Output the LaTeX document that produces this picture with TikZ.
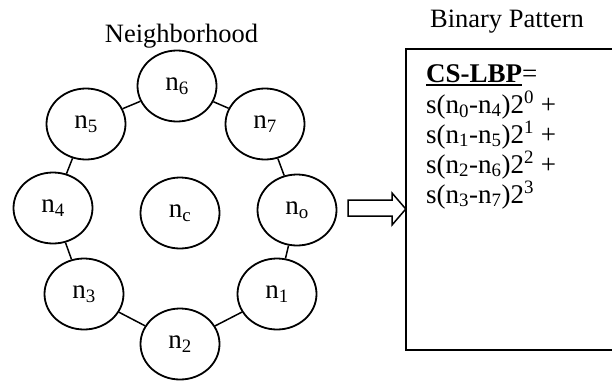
\documentclass[tikz,border=0pt]{standalone}
\usepackage{fontspec}
\setmainfont{Liberation Serif}
\usetikzlibrary{shapes.geometric}
\newcommand\thickul[1]{\setbox0\hbox{#1}\rlap{\rule[-3.5pt]{\wd0}{1.8pt}}\box0}
\tikzset{
  nb/.style={ellipse, draw, line width=1.8pt, minimum width=79pt, minimum height=71pt, inner sep=0pt, font=\fontsize{27}{30}\selectfont},
  link/.style={line width=1.5pt},
  lbl/.style={anchor=base, inner sep=0pt, font=\fontsize{26.5}{30}\selectfont},
  fline/.style={anchor=base west, inner sep=0pt, font=\fontsize{27}{30}\selectfont},
}
\begin{document}
\begin{tikzpicture}[x=1pt,y=-1pt]
\useasboundingbox (0,0) rectangle (612,383);
\clip (0,0) rectangle (612,383);
\node[nb] (n6) at (177,86) {n\textsubscript{6}};
\node[nb] (n5) at (86,124) {n\textsubscript{5}};
\node[nb] (n7) at (265,124) {n\textsubscript{7}};
\node[nb] (n4) at (53,208) {n\textsubscript{4}};
\node[nb] (nc) at (180,213) {n\textsubscript{c}};
\node[nb] (no) at (297,210) {n\textsubscript{o}};
\node[nb] (n3) at (84,294) {n\textsubscript{3}};
\node[nb] (n1) at (277,294) {n\textsubscript{1}};
\node[nb] (n2) at (180,344) {n\textsubscript{2}};
\draw[link] (n6) -- (n5);
\draw[link] (n6) -- (n7);
\draw[link] (n5) -- (n4);
\draw[link] (n7) -- (no);
\draw[link] (n4) -- (n3);
\draw[link] (no) -- (n1);
\draw[link] (n3) -- (n2);
\draw[link] (n2) -- (n1);
\node[lbl] (t1) at (181.5,42) {Neighborhood};
\node[lbl] (t2) at (507,27) {Binary Pattern};
\node[rectangle, inner sep=0pt, minimum width=210pt, minimum height=301pt] (box) at (511,199.5) {};
\draw[line width=1.8pt] (box.north east) -- (box.north west) -- (box.south west) -- (box.south east);
\draw[line width=1.5pt] (348,200) -- (392,200) -- (392,193) -- (box.west |- 0,209) -- (392,225) -- (392,216) -- (348,216) -- cycle;
\node[fline] (f0) at (426,82) {\thickul{\bfseries CS-LBP}=};
\node[fline] (f1) at (426,113) {s(n\textsubscript{0}-n\textsubscript{4})2\textsuperscript{0} +};
\node[fline] (f2) at (426,143) {s(n\textsubscript{1}-n\textsubscript{5})2\textsuperscript{1} +};
\node[fline] (f3) at (426,173) {s(n\textsubscript{2}-n\textsubscript{6})2\textsuperscript{2} +};
\node[fline] (f4) at (426,203) {s(n\textsubscript{3}-n\textsubscript{7})2\textsuperscript{3}};
\end{tikzpicture}
\end{document}
